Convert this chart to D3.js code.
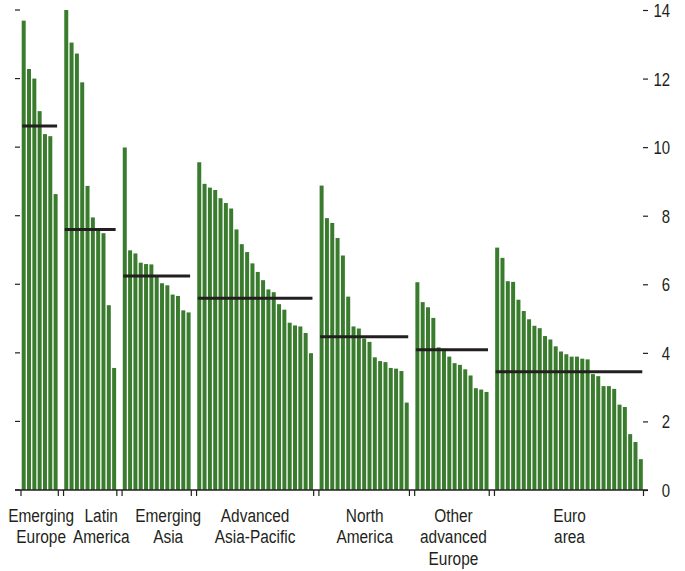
<!DOCTYPE html>
<html>
<head>
<meta charset="utf-8">
<script src="https://cdn.jsdelivr.net/npm/d3@7"></script>
<style>
  html, body { margin: 0; padding: 0; background: #fff; }
  svg text { font-family: "Liberation Sans", Arial, sans-serif; fill: #231f20; }
</style>
</head>
<body>
<svg id="chart" width="685" height="571"></svg>
<script>
// ---- data ----
const groupNames = ["Emerging Europe", "Latin America", "Emerging Asia", "Advanced Asia-Pacific", "North America", "Other advanced Europe", "Euro area"];
const groupLabelLines = [["Emerging", "Europe"], ["Latin", "America"], ["Emerging", "Asia"], ["Advanced", "Asia-Pacific"], ["North", "America"], ["Other", "advanced", "Europe"], ["Euro", "area"]];
const emergingEurope = [13.69, 12.28, 12.0, 11.05, 10.38, 10.32, 8.63];
const latinAmerica = [14.0, 13.05, 12.73, 11.89, 8.87, 7.95, 7.6, 7.49, 5.39, 3.56];
const emergingAsia = [9.99, 6.99, 6.9, 6.63, 6.59, 6.58, 6.27, 6.03, 5.97, 5.7, 5.66, 5.24, 5.18];
const advancedAsiaPacific = [9.56, 8.93, 8.82, 8.75, 8.51, 8.37, 8.21, 7.6, 7.17, 6.94, 6.61, 6.36, 6.12, 5.85, 5.77, 5.42, 5.26, 4.88, 4.8, 4.77, 4.58, 3.99];
const northAmerica = [8.88, 7.93, 7.79, 7.35, 6.84, 5.64, 4.77, 4.71, 4.42, 4.32, 3.87, 3.76, 3.73, 3.56, 3.54, 3.47, 2.55];
const otherAdvancedEurope = [6.06, 5.48, 5.33, 5.02, 4.16, 4.12, 3.89, 3.7, 3.65, 3.52, 3.34, 2.97, 2.93, 2.86];
const euroArea = [7.07, 6.77, 6.09, 6.07, 5.55, 5.22, 4.98, 4.79, 4.72, 4.49, 4.39, 4.19, 4.04, 3.96, 3.89, 3.89, 3.83, 3.81, 3.38, 3.32, 3.03, 3.03, 2.95, 2.49, 2.42, 1.63, 1.4, 0.9];
const groupAverages = [10.62, 7.6, 6.24, 5.59, 4.47, 4.09, 3.45];
const yTicks = [0, 2, 4, 6, 8, 10, 12, 14];

const seriesValues = [emergingEurope, latinAmerica, emergingAsia, advancedAsiaPacific, northAmerica, otherAdvancedEurope, euroArea];

// ---- build slots (one empty slot between groups) ----
const bars = [];
const groupsInfo = [];
let slot = 0;
seriesValues.forEach((vals, g) => {
  if (g > 0) slot += 1;
  const first = slot;
  vals.forEach((v, i) => { bars.push({ g, i, v, slot: slot }); slot += 1; });
  groupsInfo.push({ g, first, last: slot - 1, name: groupNames[g], lines: groupLabelLines[g], avg: groupAverages[g] });
});
const nSlots = slot;

// ---- layout ----
const svg = d3.select("#chart");
const plotLeft = 21.7, plotRight = 642.8, y0 = 490, yTop = 10;
const narrow = 0.83; // horizontal condensation of the text face

const x = d3.scaleBand()
  .domain(d3.range(nSlots))
  .range([plotLeft, plotRight])
  .paddingInner(0.25)
  .paddingOuter(0);

const y = d3.scaleLinear().domain([0, 14]).range([y0, yTop]);

const barColor = "#3a7c2d";
const ink = "#231f20";

// bars
svg.append("g")
  .selectAll("rect")
  .data(bars)
  .join("rect")
  .attr("x", d => x(d.slot))
  .attr("width", x.bandwidth())
  .attr("y", d => y(d.v))
  .attr("height", d => y(0) - y(d.v))
  .attr("fill", barColor);

// left tick marks (no labels)
svg.append("g")
  .selectAll("line")
  .data(yTicks)
  .join("line")
  .attr("x1", 15).attr("x2", 20)
  .attr("y1", d => y(d)).attr("y2", d => y(d))
  .attr("stroke", ink).attr("stroke-width", 1.2);

// right axis
const rightAxis = d3.axisRight(y).tickValues(yTicks).tickSize(5).tickPadding(3)
  .tickFormat(d3.format("d"));
const ra = svg.append("g").attr("transform", "translate(643,0)").call(rightAxis);
ra.select(".domain").remove();
ra.selectAll(".tick line").attr("stroke", ink).attr("stroke-width", 1.2);
ra.selectAll(".tick text")
  .attr("x", 0)
  .attr("dy", "0.36em")
  .attr("transform", `translate(27,0) scale(${narrow},1)`)
  .attr("text-anchor", "end")
  .style("font-size", "18px")
  .style("fill", ink);

// baseline
svg.append("line")
  .attr("x1", 15).attr("x2", 648)
  .attr("y1", y(0)).attr("y2", y(0))
  .attr("stroke", ink).attr("stroke-width", 1.4);

// group boundary ticks
const gTicks = [];
groupsInfo.forEach(gi => {
  gTicks.push(x(gi.first) - 0.7);
  gTicks.push(x(gi.last) + x.bandwidth() + 0.7);
});
svg.append("g")
  .selectAll("line")
  .data(gTicks)
  .join("line")
  .attr("x1", d => d).attr("x2", d => d)
  .attr("y1", y(0)).attr("y2", y(0) + 6)
  .attr("stroke", ink).attr("stroke-width", 1.2);

// group average lines
svg.append("g")
  .selectAll("line")
  .data(groupsInfo)
  .join("line")
  .attr("x1", d => x(d.first) + 0.5)
  .attr("x2", d => x(d.last) + x.bandwidth() - 0.5)
  .attr("y1", d => y(d.avg)).attr("y2", d => y(d.avg))
  .attr("stroke", ink).attr("stroke-width", 3);

// group labels (crowded narrow groups nudged right to avoid overlap)
const labelShift = [1.5, 11, 11.5, 0, 0.5, 1.5, 0.5];
const lg = svg.append("g");
groupsInfo.forEach(gi => {
  const cx = (x(gi.first) + x(gi.last) + x.bandwidth()) / 2 + labelShift[gi.g];
  const t = lg.append("g")
    .attr("transform", `translate(${cx},0) scale(${narrow},1)`)
    .append("text")
    .attr("x", 0)
    .attr("y", 522)
    .attr("text-anchor", "middle")
    .style("font-size", "18.6px");
  gi.lines.forEach((ln, k) => {
    t.append("tspan").attr("x", 0).attr("y", 522 + k * 21.5).text(ln);
  });
});
</script>
</body>
</html>
